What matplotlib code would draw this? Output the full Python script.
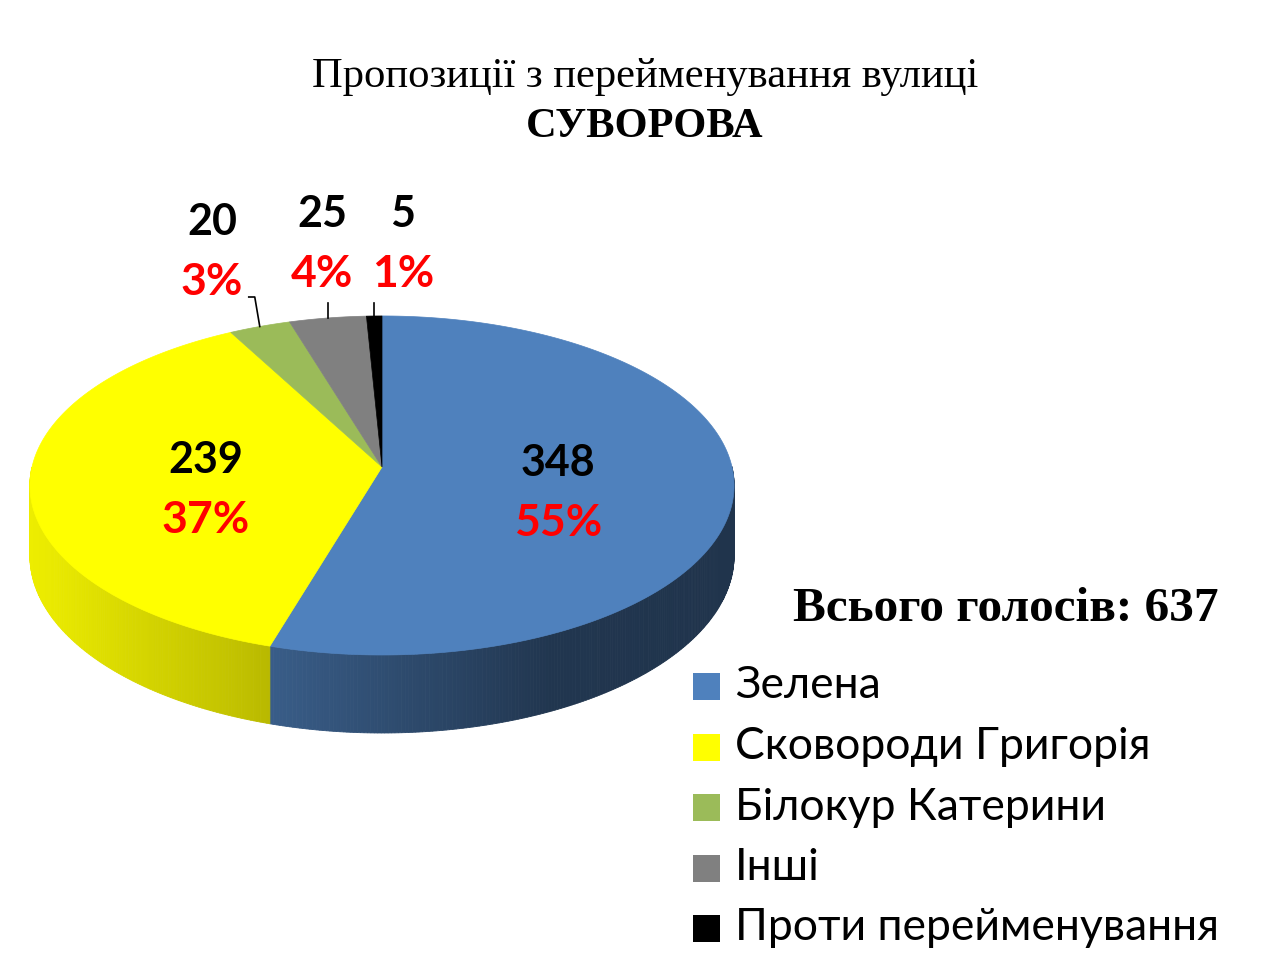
import numpy as np
import matplotlib
matplotlib.use("Agg")
import matplotlib.pyplot as plt
from matplotlib.patches import Polygon, Rectangle
from matplotlib.colors import to_rgb

# data
names = ["Зелена", "Сковороди Григорія", "Білокур Катерини", "Інші", "Проти перейменування"]
votes = [348, 239, 20, 25, 5]
pct_labels = ["55%", "37%", "3%", "4%", "1%"]
colors = ["#4f81bd", "#ffff00", "#9bbb59", "#808080", "#000000"]
title_line1 = "Пропозиції з перейменування вулиці"
title_line2 = "СУВОРОВА"
total_text = "Всього голосів: 637"

# pie geometry (pixels)
cx, cy = 382, 467
A, B = 350, 167.5
k = 0.109          # perspective
depth = 69.5

# side wall lighting, darker to the right
shade_x = [30, 60, 150, 250, 280, 450, 550, 740]
shade_f = [0.93, 0.91, 0.83, 0.75, 0.71, 0.53, 0.42, 0.40]

sans = ["Lato", "Open Sans", "DejaVu Sans"]
serif = ["Liberation Serif", "DejaVu Serif"]


def proj(theta, r=1.0, dz=0.0):
    s = 1.0 / (1.0 + k * np.sin(theta))
    x = cx + A * r * np.cos(theta) * s
    y = cy - B * r * np.sin(theta) * s + dz * s
    return x, y


def shade(c, x):
    f = np.interp(x, shade_x, shade_f)
    r, g, b = to_rgb(c)
    return (r * f, g * f, b * f)


fig = plt.figure(figsize=(12.8, 9.6), dpi=100)
ax = fig.add_axes([0, 0, 1, 1])
ax.set_xlim(0, 1280)
ax.set_ylim(960, 0)
ax.axis("off")

total = sum(votes)
cum = np.concatenate([[0], np.cumsum(votes)])
t1 = np.radians(90 - cum[:-1] / total * 360)
t2 = np.radians(90 - cum[1:] / total * 360)

# side walls
for i in range(len(votes)):
    ts = np.linspace(t2[i], t1[i], max(3, int(np.degrees(t1[i] - t2[i]) * 2)))
    for a, b in zip(ts[:-1], ts[1:]):
        if np.sin((a + b) / 2) >= 0:
            continue
        xa, ya = proj(a)
        xb, yb = proj(b)
        xa2, ya2 = proj(a, dz=depth)
        xb2, yb2 = proj(b, dz=depth)
        col = shade(colors[i], (xa + xb) / 2)
        ax.add_patch(Polygon([(xa, ya), (xb, yb), (xb2, yb2), (xa2, ya2)],
                             closed=True, facecolor=col, edgecolor=col, lw=0.6))

# top face
for i in range(len(votes)):
    ts = np.linspace(t2[i], t1[i], 200)
    xs, ys = proj(ts)
    pts = [(cx, cy)] + list(zip(xs, ys))
    ax.add_patch(Polygon(pts, closed=True, facecolor=colors[i],
                         edgecolor=colors[i], lw=0.5))

# labels inside the big slices
for i in range(2):
    tm = (t1[i] + t2[i]) / 2
    x, y = proj(tm, r=0.5)
    ax.text(x, y - 16, str(votes[i]), ha="center", va="center", fontsize=31,
            fontweight="bold", family=sans, color="black")
    ax.text(x, y + 44, pct_labels[i], ha="center", va="center", fontsize=32,
            fontweight="bold", family=sans, color="#ff0000")

# labels of the small slices, with leader lines
out_x = [212, 322, 403]
out_y = [222, 214, 214]
for j, i in enumerate(range(2, 5)):
    tm = (t1[i] + t2[i]) / 2
    x, y = proj(tm)
    if j == 0:
        ax.plot([x, x - 5, x - 11], [y, 297, 297], color="black", lw=1.2)
    else:
        ax.plot([x, x], [y, 303], color="black", lw=1.2)
    ax.text(out_x[j], out_y[j], str(votes[i]), ha="center", va="center",
            fontsize=31, fontweight="bold", family=sans, color="black")
    ax.text(out_x[j], out_y[j] + 60, pct_labels[i], ha="center", va="center",
            fontsize=32, fontweight="bold", family=sans, color="#ff0000")

# title
ax.text(645, 77, title_line1, ha="center", va="center", fontsize=30.7,
        family=serif, color="black")
ax.text(645, 127, title_line2, ha="center", va="center", fontsize=30.5,
        fontweight="bold", family=serif, color="black")
ax.text(1006, 609, total_text, ha="center", va="center", fontsize=35.5,
        fontweight="bold", family=serif, color="black")

# legend
for i, name in enumerate(names):
    y = 686 + i * 60.5
    ax.add_patch(Rectangle((693, y - 13), 27, 27, facecolor=colors[i], edgecolor="none"))
    ax.text(735, y, name, ha="left", va="center", fontsize=32, family=sans,
            color="black")

fig.savefig("out.png", dpi=100, facecolor="white")
